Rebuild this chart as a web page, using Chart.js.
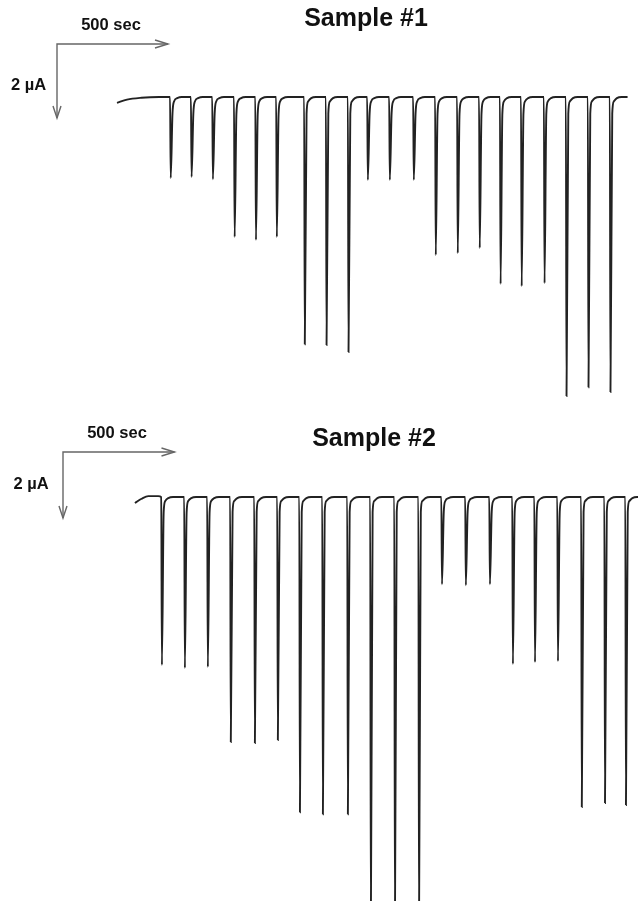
<!DOCTYPE html>
<html>
<head>
<meta charset="utf-8">
<script src="https://cdn.jsdelivr.net/npm/chart.js@4"></script>
<style>
html, body { margin: 0; padding: 0; background: #fff; }
.panel { position: absolute; left: 0; width: 638px; }
</style>
</head>
<body>
<div class="panel" style="top:0;height:405px"><canvas id="s1"></canvas></div>
<div class="panel" style="top:405px;height:496px"><canvas id="s2"></canvas></div>
<script>
// Sample #1: injection times (sec from start of trace) and peak current (uA, downward)
const s1Times = [242, 336, 432, 530, 626, 720, 846, 944, 1043, 1130, 1229, 1337, 1436, 1535, 1634, 1728, 1823, 1926, 2025, 2124, 2223];
const s1Peaks = [2.19, 2.16, 2.22, 3.78, 3.86, 3.78, 6.68, 6.70, 6.89, 2.24, 2.24, 2.24, 4.27, 4.22, 4.08, 5.05, 5.11, 5.03, 8.08, 7.84, 7.97];
const s1Onset = [[0, -0.16], [45, -0.07], [110, -0.02], [190, 0]];
const s1End = 2300;

// Sample #2
const s2Times = [121, 224, 327, 430, 538, 641, 740, 843, 955, 1058, 1166, 1274, 1377, 1484, 1592, 1695, 1794, 1897, 2004, 2108, 2202];
const s2Peaks = [5.09, 5.18, 5.15, 7.42, 7.45, 7.36, 9.55, 9.61, 9.61, 13.0, 13.0, 13.0, 2.64, 2.67, 2.64, 5.06, 5.00, 4.97, 9.39, 9.27, 9.33];
const s2Onset = [[0, -0.18], [30, -0.05], [60, 0.03], [105, 0.03]];
const s2End = 2256;

// scale bars
const barTime = 500;   // sec
const barCurrent = 2;  // uA

// each injection: sharp drop, near vertical return, rounded recovery to baseline
const buildTrace = (times, peaks, onset, end) => {
    const pts = onset.map(p => ({ x: p[0], y: p[1] }));
    times.forEach((t, i) => {
        pts.push({ x: t - 3, y: 0 });
        pts.push({ x: t, y: -peaks[i] });
        pts.push({ x: t + 8, y: -0.45 });
        pts.push({ x: t + 15, y: -0.12 });
        pts.push({ x: t + 29, y: -0.03 });
        pts.push({ x: t + 50, y: 0 });
    });
    pts.push({ x: end, y: 0 });
    return pts;
}

const arrowHead = (ctx, x, y, dir) => {
    ctx.beginPath();
    if (dir === 'right') {
        ctx.moveTo(x - 13, y - 4); ctx.lineTo(x, y); ctx.lineTo(x - 13, y + 4);
    } else {
        ctx.moveTo(x - 4, y - 12); ctx.lineTo(x, y); ctx.lineTo(x + 4, y - 12);
    }
    ctx.stroke();
}

const overlay = {
    id: 'overlay',
    afterDraw(chart, args, o) {
        const { ctx, scales: { x, y } } = chart;
        const dx = x.getPixelForValue(barTime) - x.getPixelForValue(0);
        const dy = y.getPixelForValue(-barCurrent) - y.getPixelForValue(0);
        ctx.save();
        ctx.strokeStyle = '#666';
        ctx.lineWidth = 1.4;
        ctx.beginPath();
        ctx.moveTo(o.bar[0] + dx, o.bar[1]);
        ctx.lineTo(o.bar[0], o.bar[1]);
        ctx.lineTo(o.bar[0], o.bar[1] + dy);
        ctx.stroke();
        arrowHead(ctx, o.bar[0] + dx, o.bar[1], 'right');
        arrowHead(ctx, o.bar[0], o.bar[1] + dy, 'down');

        ctx.fillStyle = '#111';
        ctx.textAlign = 'center';
        ctx.textBaseline = 'middle';
        ctx.font = 'bold 16.5px "Liberation Sans", Arial, sans-serif';
        ctx.fillText(barTime + ' sec', o.timeLabel[0], o.timeLabel[1]);
        ctx.fillText(barCurrent + ' \u00b5A', o.currentLabel[0], o.currentLabel[1]);
        ctx.font = 'bold 25px "Liberation Sans", Arial, sans-serif';
        ctx.fillText(o.title, o.titlePos[0], o.titlePos[1]);
        ctx.restore();
    }
}

const setChart = (option) => {
    const ctx = document.getElementById(option.id);
    new Chart(ctx, {
        type: 'scatter',
        data: {
            datasets: [{
                data: buildTrace(option.times, option.peaks, option.onset, option.end),
                showLine: true,
                borderColor: '#222',
                borderWidth: 1.9,
                pointRadius: 0,
                cubicInterpolationMode: 'monotone'
            }]
        },
        options: {
            responsive: true,
            maintainAspectRatio: false,
            animation: false,
            layout: { padding: 0 },
            plugins: {
                legend: { display: false },
                tooltip: { enabled: false },
                overlay: option.overlay
            },
            scales: {
                x: { type: 'linear', display: false, min: option.xRange[0], max: option.xRange[1] },
                y: { type: 'linear', display: false, min: option.yRange[0], max: option.yRange[1] }
            }
        },
        plugins: [overlay]
    });
}

setChart({
    id: 's1', times: s1Times, peaks: s1Peaks, onset: s1Onset, end: s1End,
    xRange: [-527, 2347], yRange: [-8.32, 2.62],
    overlay: { title: 'Sample #1', titlePos: [366, 19], bar: [57, 44], timeLabel: [111, 25.5], currentLabel: [28.5, 85.5] }
});

setChart({
    id: 's2', times: s2Times, peaks: s2Peaks, onset: s2Onset, end: s2End,
    xRange: [-605, 2256], yRange: [-12.24, 2.79],
    overlay: { title: 'Sample #2', titlePos: [374, 34], bar: [63, 47], timeLabel: [117, 28.5], currentLabel: [31, 79] }
});
</script>
</body>
</html>
